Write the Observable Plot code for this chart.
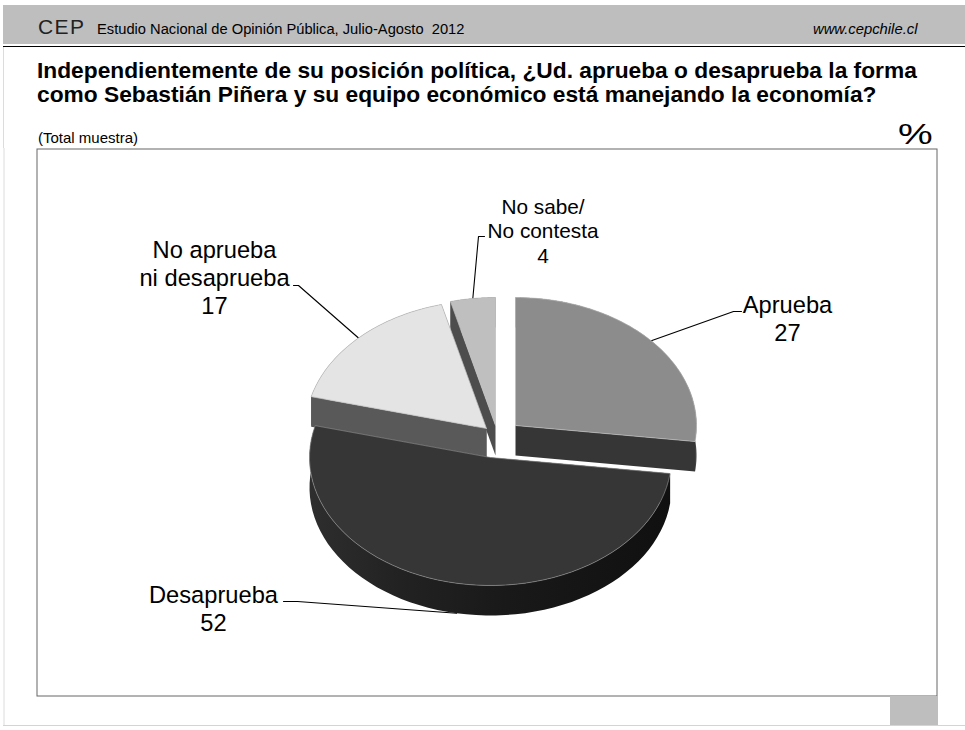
<!DOCTYPE html>
<html lang="es"><head><meta charset="utf-8">
<script src="https://cdn.jsdelivr.net/npm/d3@7"></script>
<script src="https://cdn.jsdelivr.net/npm/@observablehq/plot@0.6"></script>
<style>
html,body{margin:0;padding:0;background:#fff;}
body{width:965px;height:730px;overflow:hidden;font-family:"Liberation Sans",Arial,sans-serif;color:#000;}
#head{position:relative;width:965px;height:148px;}
#head div{position:absolute;white-space:nowrap;}
#band{left:3px;top:5px;width:962px;height:39px;background:#bebebe;}
#rule{left:3px;top:45.5px;width:962px;height:1.2px;background:#000;}
#side{left:3px;top:47px;width:1px;height:101px;background:#dcdcdc;}
#cep{left:38px;top:15px;font-size:21px;letter-spacing:1.4px;color:#222;}
#study{left:97px;top:21px;font-size:14.7px;}
#web{left:813px;top:21px;font-size:14.8px;font-style:italic;}
#t1{left:37px;top:57px;font-size:22.75px;font-weight:bold;}
#t2{left:37px;top:81px;font-size:22.75px;font-weight:bold;}
#note{left:38px;top:129px;font-size:15px;}
#pct{left:898px;top:117px;font-size:30px;transform:scaleX(1.3);transform-origin:left top;}
svg{display:block;}
</style></head><body>
<div id="head">
  <div id="band"></div><div id="rule"></div><div id="side"></div>
  <div id="cep">CEP</div>
  <div id="study">Estudio Nacional de Opinión Pública, Julio-Agosto&nbsp; 2012</div>
  <div id="web">www.cepchile.cl</div>
  <div id="t1">Independientemente de su posición política, ¿Ud. aprueba o desaprueba la forma</div>
  <div id="t2">como Sebastián Piñera y su equipo económico está manejando la economía?</div>
  <div id="note">(Total muestra)</div>
  <div id="pct">%</div>
</div>
<div id="chart"></div>
<script>
const categories = ["Aprueba", "Desaprueba", "No aprueba\nni desaprueba", "No sabe/\nNo contesta"];
const values = [27, 52, 17, 4];
const topColors = ["#8c8c8c", "#363636", "#e4e4e4", "#bfbfbf"];
const sideColors = ["#363636", "url(#wall)", "#595959", "#4d4d4d"];
const drawOrder = [3, 2, 0, 1];

// Layout of the exploded tilted pie, in picture units
const rx = 181, ry = 128, depth = 30;
const apexX = [515, 490, 486, 495];
const apexY = [425, 457, 428, 425];
const labelX = [787, 213, 214, 542.5];
const labelY = [317.6, 607.4, 276.4, 229.8];
const labelSize = [23.7, 23.7, 23.7, 20.8];
const kneeA = [[733, 311], [297, 601], [298, 285], [478, 236]];
const kneeB = [[741, 311], [283, 601], [293, 285], [484, 236]];

const arcs = d3.pie().sort(null).value(d => d)(values);
const pt = (i, a, dz = 0) => ({x: apexX[i] + rx * Math.sin(a), y: apexY[i] - ry * Math.cos(a) + dz});
const arcPts = (i, dz = 0) => {
  const {startAngle: s, endAngle: e} = arcs[i];
  return d3.range(0, 61).map(k => pt(i, s + (e - s) * k / 60, dz));
};
const poly = (pts, fill, stroke = "none", strokeWidth = 0) =>
  Plot.line([...pts, pts[0]], {x: "x", y: "y", fill, stroke, strokeWidth, curve: "linear"});

const pieMarks = drawOrder.flatMap(i => {
  const {startAngle: s, endAngle: e} = arcs[i];
  const apex = {x: apexX[i], y: apexY[i]};
  const low = {x: apexX[i], y: apexY[i] + depth};
  const top = arcPts(i), bot = arcPts(i, depth);
  return [
    poly([...top, ...bot.slice().reverse()], sideColors[i]),
    poly([apex, pt(i, s), pt(i, s, depth), low], sideColors[i]),
    poly([apex, pt(i, e), pt(i, e, depth), low], sideColors[i]),
    poly([apex, ...top], topColors[i], i === 1 ? "#8a8a8a" : "#bdbdbd", 0.7)
  ];
});

const leaderMarks = arcs.map((d, i) => {
  const mid = (d.startAngle + d.endAngle) / 2;
  const front = i === 1 ? depth : 0;
  const p = pt(i, mid, front);
  return Plot.line([p, {x: kneeA[i][0], y: kneeA[i][1]}, {x: kneeB[i][0], y: kneeB[i][1]}],
    {x: "x", y: "y", stroke: "#000", strokeWidth: 1.1, curve: "linear"});
});

const labels = categories.map((c, i) => ({text: c + "\n" + values[i], x: labelX[i], y: labelY[i], size: labelSize[i]}));

const wallGradient = () => {
  const defs = d3.create("svg:defs");
  const g = defs.append("linearGradient").attr("id", "wall").attr("x1", 0).attr("x2", 1).attr("y1", 0).attr("y2", 0);
  [[0, "#2e2e2e"], [0.25, "#222222"], [0.55, "#191919"], [1, "#101010"]]
    .forEach(([o, c]) => g.append("stop").attr("offset", o).attr("stop-color", c));
  return defs.node();
};

const chart = Plot.plot({
  width: 965, height: 582,
  marginTop: 0, marginRight: 0, marginBottom: 0, marginLeft: 0,
  x: {axis: null, domain: [0, 965], range: [0, 965]},
  y: {axis: null, domain: [148, 730], range: [0, 582]},
  style: {fontFamily: "'Liberation Sans', Arial, sans-serif", background: "#fff", color: "#000"},
  marks: [
    wallGradient,
    Plot.rect([{x1: 37, x2: 937, y1: 149, y2: 696}], {x1: "x1", x2: "x2", y1: "y1", y2: "y2", fill: "#fff", stroke: "#666", strokeWidth: 1}),
    Plot.rect([{x1: 890, x2: 938, y1: 696, y2: 725}], {x1: "x1", x2: "x2", y1: "y1", y2: "y2", fill: "#bebebe"}),
    Plot.ruleY([725], {x1: 3, x2: 965, stroke: "#d4d4d4", strokeWidth: 1}),
    Plot.ruleX([3.5], {y1: 148, y2: 725, stroke: "#dcdcdc", strokeWidth: 1}),
    ...leaderMarks,
    ...pieMarks,
    Plot.text(labels, {x: "x", y: "y", text: "text", fontSize: "size", lineHeight: 1.18, textAnchor: "middle", lineAnchor: "middle", fill: "#000"})
  ]
});
document.getElementById("chart").appendChild(chart);
</script>
</body></html>
